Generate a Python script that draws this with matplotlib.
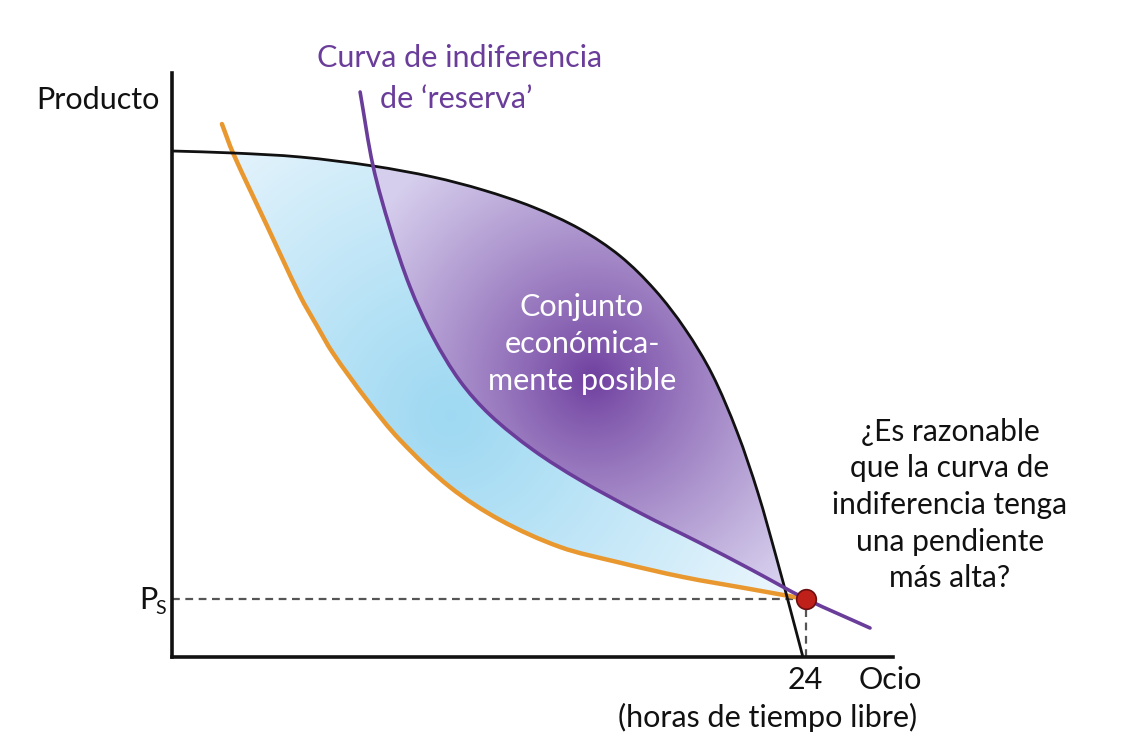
import numpy as np
import matplotlib
matplotlib.use("Agg")
import matplotlib.pyplot as plt
from matplotlib.patches import PathPatch
from matplotlib.path import Path

# ---------------- data (x: hours of free time, y: product units) ----------------
frontier_x = [0.00, 2.31, 4.85, 7.61, 9.88, 11.77, 13.66, 15.44, 16.96, 18.28,
              19.42, 20.44, 21.39, 22.18, 22.86, 23.39, 23.88]
frontier_y = [50.6, 50.4, 50.0, 49.1, 48.0, 46.7, 45.0, 42.8, 40.1, 36.7,
              32.8, 28.3, 22.5, 16.4, 10.1, 4.9, 0.0]

ic_low_x = [1.89, 2.31, 3.60, 4.85, 5.49, 6.09, 7.38, 8.63, 10.52, 12.42, 14.69,
            16.85, 19.34, 21.88, 23.77]
ic_low_y = [53.3, 50.4, 43.1, 36.1, 33.1, 30.4, 25.7, 21.7, 17.0, 13.7, 11.0,
            9.5, 8.0, 6.8, 5.9]

ic_res_x = [7.12, 7.61, 8.25, 9.01, 9.88, 10.90, 12.04, 13.67, 15.44, 17.72,
            19.99, 21.88, 24.00, 26.42]
ic_res_y = [56.5, 49.1, 42.9, 37.0, 32.0, 27.6, 24.2, 20.7, 17.7, 14.4,
            11.4, 8.8, 5.8, 2.9]

ps_value = 5.8
hours_total = 24

# ---------------- figure ----------------
W, H = 1144, 748
FONT = ["Lato", "DejaVu Sans"]
plt.rcParams["font.family"] = FONT

fig = plt.figure(figsize=(W / 100, H / 100), dpi=100)
ax_l, ax_b, ax_w, ax_h = 172, 657, 893 - 172, 657 - 73
ax = fig.add_axes([ax_l / W, (H - ax_b) / H, ax_w / W, ax_h / H])
XMAX, YMAX = 27.29, 58.4
ax.set_xlim(0, XMAX)
ax.set_ylim(0, YMAX)
for s in ["top", "right"]:
    ax.spines[s].set_visible(False)
for s in ["left", "bottom"]:
    ax.spines[s].set_linewidth(2.6)
    ax.spines[s].set_color("#111111")
ax.set_xticks([])
ax.set_yticks([])
ax.patch.set_alpha(0)

SC = np.array([ax_w / XMAX, ax_h / YMAX])  # data -> pixel scale


def bezier_through(pts):
    """Smooth cubic Bezier path through the points (chord-scaled tangents)."""
    p = np.asarray(pts, dtype=float)
    q = p * SC
    n = len(q)
    tang = []
    for i in range(n):
        a = q[max(i - 1, 0)]
        b = q[min(i + 1, n - 1)]
        d = b - a
        tang.append(d / np.hypot(*d))
    verts = [p[0]]
    codes = [Path.MOVETO]
    for i in range(n - 1):
        L = np.hypot(*(q[i + 1] - q[i])) / 3.0
        c1 = q[i] + tang[i] * L
        c2 = q[i + 1] - tang[i + 1] * L
        verts += [c1 / SC, c2 / SC, p[i + 1]]
        codes += [Path.CURVE4] * 3
    return verts, codes


def curve_path(pts):
    v, c = bezier_through(pts)
    return Path(v, c)


def region_under(pts):
    v, c = bezier_through(pts)
    v = v + [(0.0, 0.0), (0.0, 0.0)]
    c = c + [Path.LINETO, Path.CLOSEPOLY]
    return Path(v, c)


def region_above(pts):
    v, c = bezier_through(pts)
    last, first = v[-1], v[0]
    v = v + [(last[0] + 30, last[1]), (last[0] + 30, 300), (first[0], 300), first]
    c = c + [Path.LINETO, Path.LINETO, Path.LINETO, Path.CLOSEPOLY]
    return Path(v, c)


F = np.column_stack([frontier_x, frontier_y])
Lo = np.column_stack([ic_low_x, ic_low_y])
Re = np.column_stack([ic_res_x, ic_res_y])

# ---------------- gradient fills (masks from the curves) ----------------
cols = np.arange(ax_w)
rows = np.arange(ax_h)
C, Rr = np.meshgrid(cols, rows)
gx = (C + 0.5) / SC[0]
gy = YMAX - (Rr + 0.5) / SC[1]
grid = np.column_stack([gx.ravel(), gy.ravel()])

in_front = region_under(F).contains_points(grid).reshape(gx.shape)
above_lo = region_above(Lo).contains_points(grid).reshape(gx.shape)
above_re = region_above(Re).contains_points(grid).reshape(gx.shape)

purple_mask = in_front & above_re
blue_mask = in_front & above_lo & ~above_re

PX = C + ax_l
PY = Rr + 73


def radial(cx, cy, R, inner, outer, gamma=1.0):
    d = np.sqrt((PX - cx) ** 2 + (PY - cy) ** 2) / R
    t = np.clip(d, 0, 1) ** gamma
    inner = np.array(inner)
    outer = np.array(outer)
    return inner[None, None, :] * (1 - t[..., None]) + outer[None, None, :] * t[..., None]


blue_rgb = radial(450, 415, 360, (0.62, 0.85, 0.95), (0.91, 0.96, 0.99), 1.1)
purple_rgb = radial(592, 378, 270, (0.43, 0.24, 0.62), (0.84, 0.81, 0.93), 0.85)

img = np.zeros(gx.shape + (4,))
img[blue_mask, :3] = blue_rgb[blue_mask]
img[purple_mask, :3] = purple_rgb[purple_mask]
img[..., 3] = (blue_mask | purple_mask).astype(float)
ax.imshow(img, extent=[0, XMAX, 0, YMAX], origin="upper", aspect="auto",
          interpolation="nearest", zorder=1)

# ---------------- curves ----------------
ax.add_patch(PathPatch(curve_path(Lo), facecolor="none", edgecolor="#e8982f",
                       lw=3.2, capstyle="round", zorder=3))
ax.add_patch(PathPatch(curve_path(F), facecolor="none", edgecolor="#111111",
                       lw=2.0, zorder=4, clip_on=False))
ax.add_patch(PathPatch(curve_path(Re), facecolor="none", edgecolor="#6a3d9a",
                       lw=2.6, capstyle="round", zorder=5, clip_on=False))

# dashed guides
ax.plot([0, hours_total], [ps_value, ps_value], ls=(0, (3.5, 2.5)), color="#555555", lw=1.6, zorder=2)
ax.plot([hours_total, hours_total], [0, ps_value], ls=(0, (3.5, 2.5)), color="#555555", lw=1.6, zorder=2)

# point
ax.scatter([hours_total], [ps_value], s=200, color="#c0201a", edgecolor="#6a1010",
           linewidth=1.2, zorder=6, clip_on=False)


# ---------------- text ----------------
def fp(x, y):
    return (x / W, 1 - y / H)


fs = 22
fig.text(*fp(160, 100), "Producto", fontsize=fs, ha="right", va="center", color="#111111")
fig.text(*fp(460, 58), "Curva de indiferencia", fontsize=fs, ha="center", va="center", color="#6a3d9a")
fig.text(*fp(456, 99), "de ‘reserva’", fontsize=fs, ha="center", va="center", color="#6a3d9a")

for i, line in enumerate(["Conjunto", "económica-", "mente posible"]):
    fig.text(*fp(582, 307 + i * 37), line, fontsize=fs, ha="center", va="center", color="white", zorder=10)

for i, line in enumerate(["¿Es razonable", "que la curva de", "indiferencia tenga",
                          "una pendiente", "más alta?"]):
    fig.text(*fp(950, 432 + i * 36.5), line, fontsize=21.5, ha="center", va="center", color="#111111")

fig.text(*fp(148, 600), "P", fontsize=fs, ha="center", va="center", color="#111111")
fig.text(*fp(161, 609), "S", fontsize=14, ha="center", va="center", color="#111111")
fig.text(*fp(805, 680), "24", fontsize=fs, ha="center", va="center", color="#111111")
fig.text(*fp(890, 680), "Ocio", fontsize=fs, ha="center", va="center", color="#111111")
fig.text(*fp(768, 717), "(horas de tiempo libre)", fontsize=fs, ha="center", va="center", color="#111111")

fig.savefig("out.png", dpi=100)
